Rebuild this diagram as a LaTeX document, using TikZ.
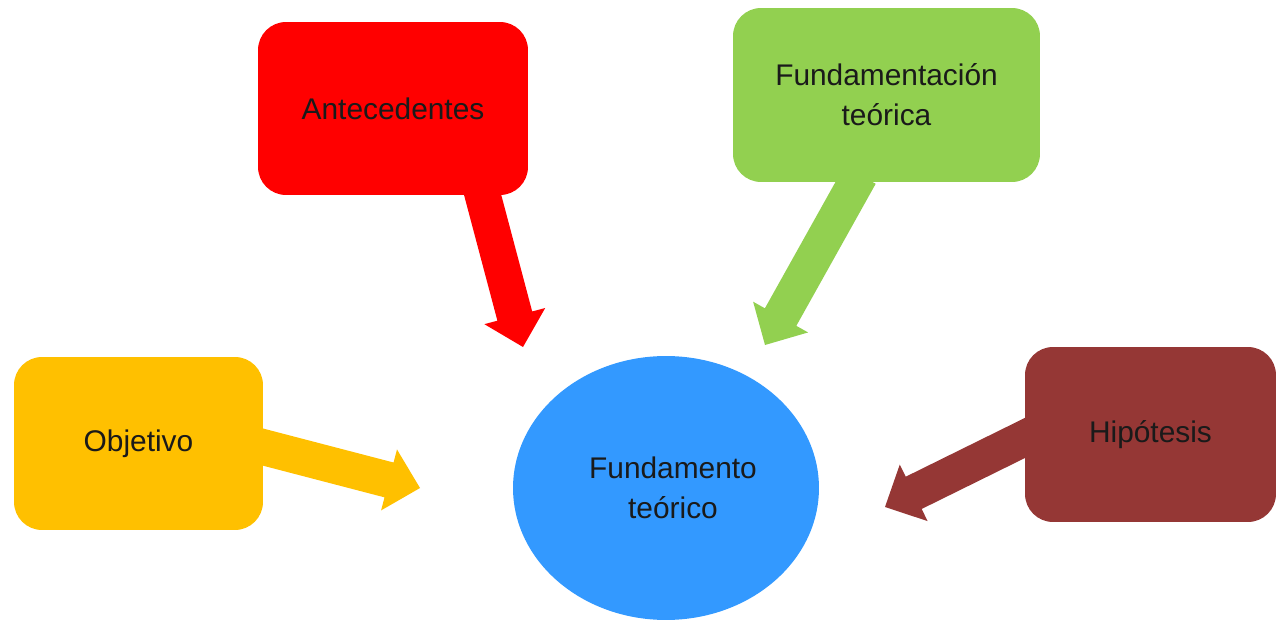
\documentclass[tikz,border=0pt]{standalone}
\usepackage{fontspec}
\setmainfont{Liberation Sans}
\usetikzlibrary{calc,shapes.geometric}
\definecolor{cred}{HTML}{FF0000}
\definecolor{cgreen}{HTML}{92D050}
\definecolor{cyellow}{HTML}{FFC000}
\definecolor{cbrown}{HTML}{953735}
\definecolor{cblue}{HTML}{3399FF}
\definecolor{ctext}{HTML}{1A1A1A}
\newcommand{\blockarr}[3]{%
  \coordinate (hb) at ($(#2)!0.64cm!(#1)$);
  \fill[#3] ($(#1)!0.36cm!90:(#2)$) -- ($(hb)!0.36cm!90:(#2)$) -- ($(hb)!0.63cm!90:(#2)$)
    -- (#2) -- ($(hb)!0.63cm!-90:(#2)$) -- ($(hb)!0.36cm!-90:(#2)$) -- ($(#1)!0.36cm!-90:(#2)$) -- cycle;
}
\begin{document}
\begin{tikzpicture}[x=0.02cm,y=-0.02cm,
  box/.style={rounded corners=0.56cm, inner sep=0pt, align=center, text=ctext,
    font=\fontsize{17pt}{22.7pt}\selectfont},
  oval/.style={ellipse, inner sep=0pt, align=center, text=ctext,
    font=\fontsize{17pt}{22.7pt}\selectfont}]
\useasboundingbox (0,0) rectangle (1279,625);
% anchor coordinates for arrows
\coordinate (sA) at (480,185);
\coordinate (eA) at (523,347);
\coordinate (sF) at (860,175);
\coordinate (eF) at (765,345);
\coordinate (sO) at (255,445);
\coordinate (eO) at (420,488);
\coordinate (sH) at (1035,433);
\coordinate (eH) at (885,507);
\blockarr{sA}{eA}{cred}
\blockarr{sF}{eF}{cgreen}
\blockarr{sO}{eO}{cyellow}
\blockarr{sH}{eH}{cbrown}
\node[box, fill=cred, minimum width=5.4cm, minimum height=3.46cm] (ant) at (393,108.5) {Antecedentes};
\node[box, fill=cgreen, minimum width=6.14cm, minimum height=3.48cm] (fund) at (886.5,95) {Fundamentación\\teórica};
\node[box, fill=cyellow, minimum width=4.98cm, minimum height=3.46cm] (obj) at (138.5,443.5) {Objetivo};
\node[box, fill=cbrown, minimum width=5.02cm, minimum height=3.5cm] (hip) at (1150.5,434.5) {Hipótesis};
\node[oval, fill=cblue, minimum width=6.12cm, minimum height=5.28cm] (ft) at (666,488) {\hspace*{0.28cm}Fundamento\\\hspace*{0.28cm}teórico};
\end{tikzpicture}
\end{document}
